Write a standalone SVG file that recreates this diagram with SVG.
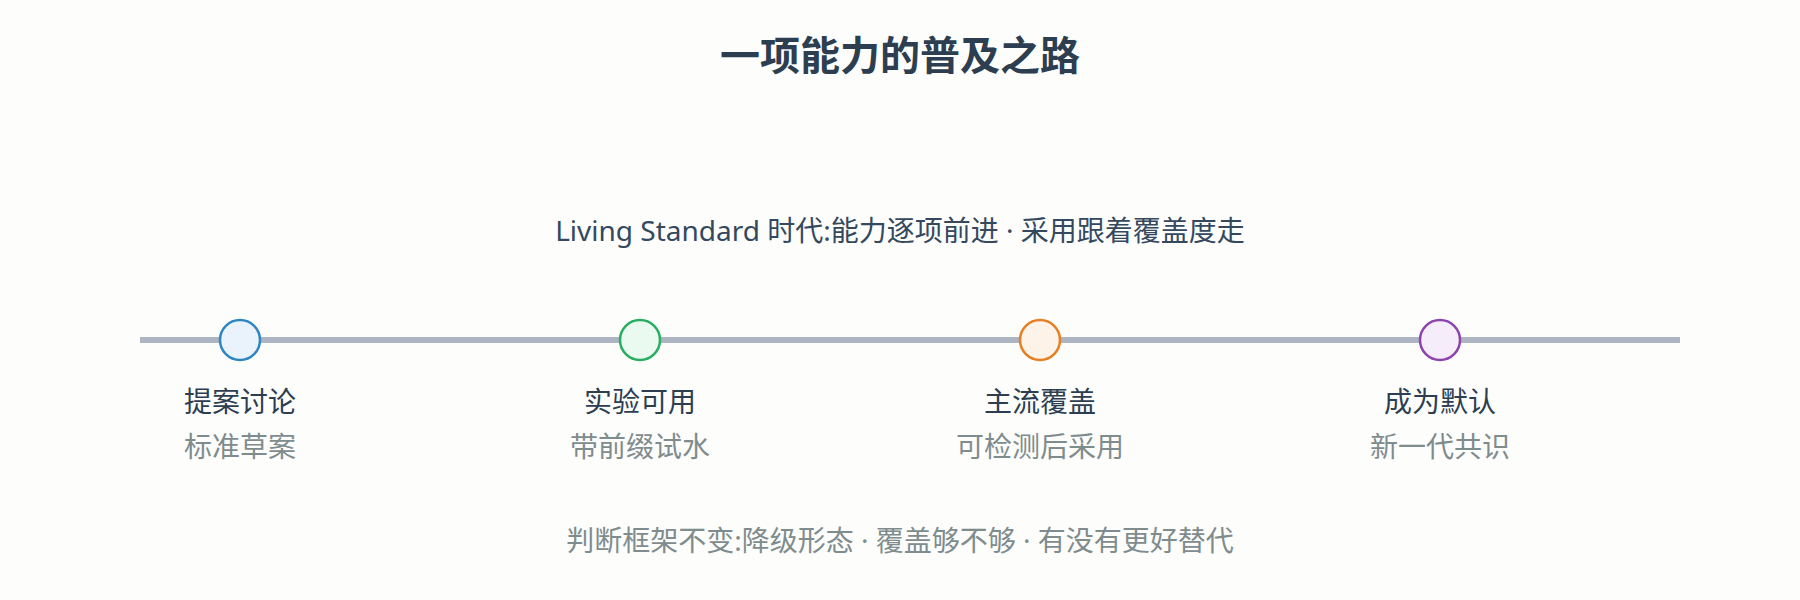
<svg xmlns="http://www.w3.org/2000/svg" width="1800" height="600" viewBox="0 0 1800 600">
  <style>
    text { font-family: "Noto Sans", "Noto Sans CJK SC", sans-serif; text-anchor: middle; }
    .title { font-size: 40px; font-weight: 700; fill: #2c3e50; }
    .sub { font-size: 28px; fill: #34495e; }
    .label { font-size: 28px; fill: #2c3e50; }
    .desc { font-size: 28px; fill: #7f8c8d; }
    .note { font-size: 28px; fill: #7f8c8d; }
    .axis { stroke: #adb5c2; stroke-width: 6; fill: none; }
    .dot { stroke-width: 2.5; }
  </style>
  <rect width="1800" height="600" fill="#fdfdfc"/>
  <text class="title" x="900" y="70">一项能力的普及之路</text>
  <text class="sub" x="900" y="241">Living Standard 时代:能力逐项前进 · 采用跟着覆盖度走</text>
  <g id="connectors">
    <line class="axis" x1="140" y1="340" x2="1680" y2="340"/>
  </g>
  <g id="node-proposal">
    <circle class="dot" cx="240" cy="340" r="20" fill="#eaf2fb" stroke="#2e86c1"/>
    <text class="label" x="240" y="412">提案讨论</text>
    <text class="desc" x="240" y="457">标准草案</text>
  </g>
  <g id="node-experimental">
    <circle class="dot" cx="640" cy="340" r="20" fill="#eafaf1" stroke="#27ae60"/>
    <text class="label" x="640" y="412">实验可用</text>
    <text class="desc" x="640" y="457">带前缀试水</text>
  </g>
  <g id="node-mainstream">
    <circle class="dot" cx="1040" cy="340" r="20" fill="#fef3e8" stroke="#e67e22"/>
    <text class="label" x="1040" y="412">主流覆盖</text>
    <text class="desc" x="1040" y="457">可检测后采用</text>
  </g>
  <g id="node-default">
    <circle class="dot" cx="1440" cy="340" r="20" fill="#f5eefa" stroke="#8e44ad"/>
    <text class="label" x="1440" y="412">成为默认</text>
    <text class="desc" x="1440" y="457">新一代共识</text>
  </g>
  <text class="note" x="900" y="551">判断框架不变:降级形态 · 覆盖够不够 · 有没有更好替代</text>
</svg>
